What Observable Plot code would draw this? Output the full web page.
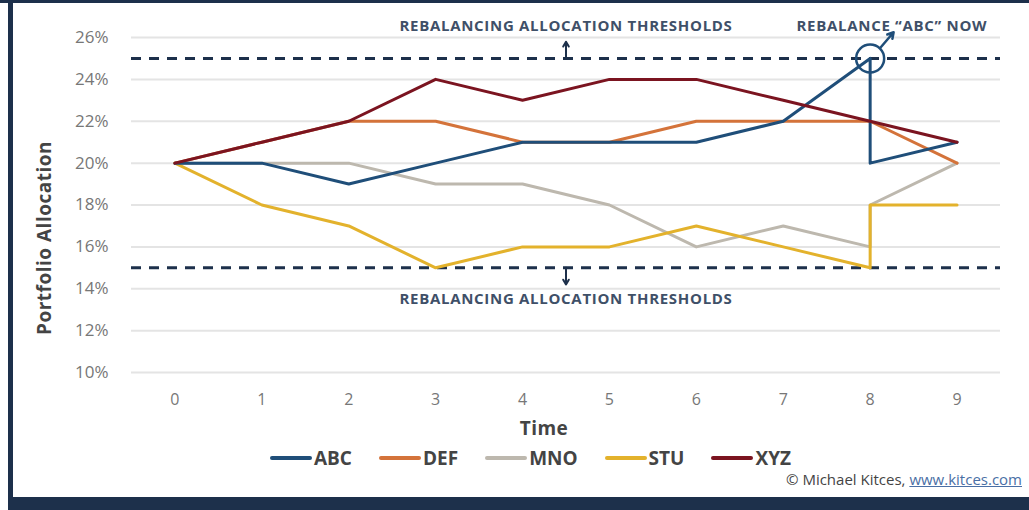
<!DOCTYPE html>
<html>
<head>
<meta charset="utf-8">
<script src="https://cdn.jsdelivr.net/npm/d3@7"></script>
<script src="https://cdn.jsdelivr.net/npm/@observablehq/plot@0.6"></script>
<style>
  html, body { margin: 0; padding: 0; background: #fff; }
  #wrap { position: relative; width: 1029px; height: 510px; overflow: hidden; background: #fff; font-family: "Open Sans", sans-serif; }
  #wrap svg { position: absolute; left: 0; top: 0; }
  #wrap svg g[aria-label="text"] text { letter-spacing: 0.7px; }
  .frame { position: absolute; background: #1d304b; }
  #ylab { position: absolute; left: 44px; top: 238px; transform: translate(-50%, -50%) rotate(-90deg); font-weight: 700; font-size: 19px; letter-spacing: 0.5px; color: #444; white-space: nowrap; }
  #xlab { position: absolute; left: 544px; top: 428px; transform: translate(-50%, -50%); font-weight: 700; font-size: 19px; letter-spacing: 0.5px; color: #444; }
  #legend { position: absolute; left: 270px; top: 445px; display: flex; align-items: center; font-weight: 700; font-size: 19px; color: #444; }
  #legend .item { display: flex; align-items: center; margin-right: 27px; }
  #legend .sw { width: 42px; height: 4px; border-radius: 2px; margin-right: 2px; }
  #caption { position: absolute; right: 7px; top: 469px; font-size: 15px; color: #444; }
  #caption a { color: #4a6fa5; text-decoration: underline; }
</style>
</head>
<body>
<div id="wrap">
  <div class="frame" style="left:0;top:0;width:1029px;height:3px"></div>
  <div class="frame" style="left:8px;top:0;width:5px;height:510px"></div>
  <div class="frame" style="left:8px;top:497px;width:1021px;height:13px"></div>
  <div id="ylab">Portfolio Allocation</div>
  <div id="xlab">Time</div>
  <div id="legend"></div>
  <div id="caption">© Michael Kitces, <a>www.kitces.com</a></div>
</div>
<script>
const seriesNames = ["ABC", "DEF", "MNO", "STU", "XYZ"];
const seriesColors = ["#1f4e79", "#d4733a", "#bdb8ae", "#e3b22c", "#7b1420"];
// time points (8 repeated where the portfolio is rebalanced)
const abcT = [0, 1, 2, 3, 4, 5, 6, 7, 8, 8, 9];
const abcV = [20, 20, 19, 20, 21, 21, 21, 22, 25, 20, 21];
const defT = [0, 1, 2, 3, 4, 5, 6, 7, 8, 9];
const defV = [20, 21, 22, 22, 21, 21, 22, 22, 22, 20];
const mnoT = [0, 1, 2, 3, 4, 5, 6, 7, 8, 8, 9];
const mnoV = [20, 20, 20, 19, 19, 18, 16, 17, 16, 18, 20];
const stuT = [0, 1, 2, 3, 4, 5, 6, 7, 8, 8, 9];
const stuV = [20, 18, 17, 15, 16, 16, 17, 16, 15, 18, 18];
const xyzT = [0, 1, 2, 3, 4, 5, 6, 7, 8, 9];
const xyzV = [20, 21, 22, 24, 23, 24, 24, 23, 22, 21];
const thresholds = [15, 25];
const xTicks = [0, 1, 2, 3, 4, 5, 6, 7, 8, 9];
const yTicks = [10, 12, 14, 16, 18, 20, 22, 24, 26];
const thresholdLabel = "REBALANCING ALLOCATION THRESHOLDS";
const rebalanceLabel = "REBALANCE “ABC” NOW";

const ts = [abcT, defT, mnoT, stuT, xyzT];
const vs = [abcV, defV, mnoV, stuV, xyzV];
const rows = [];
seriesNames.forEach((s, i) => ts[i].forEach((t, j) => rows.push({series: s, t, v: vs[i][j]})));
// draw order: MNO, STU, DEF, ABC, XYZ
const order = ["MNO", "STU", "DEF", "ABC", "XYZ"];

const navy = "#1d304b";
const textC = "#3f5068";

const chart = Plot.plot({
  width: 1029,
  height: 415,
  marginLeft: 131,
  marginRight: 29,
  marginTop: 37,
  marginBottom: 43,
  style: {fontFamily: "Open Sans, sans-serif", background: "transparent", overflow: "visible"},
  x: {domain: [-0.5, 9.5], ticks: xTicks, tickSize: 0, tickPadding: 22, tickFormat: d => String(d), label: null},
  y: {domain: [10, 26], ticks: yTicks, tickSize: 0, tickPadding: 23, tickFormat: d => d + "%", label: null},
  color: {domain: seriesNames, range: seriesColors},
  marks: [
    Plot.gridY(yTicks, {stroke: "#e4e4e4", strokeOpacity: 1, strokeWidth: 2}),
    Plot.axisX({ticks: xTicks, tickSize: 0, tickPadding: 21, fontSize: 16, fill: "#777", tickFormat: d => String(d), label: null}),
    Plot.axisY({ticks: yTicks, tickSize: 0, tickPadding: 23, fontSize: 17, fill: "#777", tickFormat: d => d + "%", label: null}),
    Plot.ruleY(thresholds, {stroke: navy, strokeWidth: 3, strokeDasharray: "10,8"}),
    ...order.map(s => Plot.line(rows.filter(r => r.series === s), {x: "t", y: "v", stroke: d => d.series, strokeWidth: 3, curve: "linear"})),
    Plot.dot([{t: 8, v: 25}], {x: "t", y: "v", r: 14, stroke: seriesColors[0], strokeWidth: 2.5, fill: "none"}),
    Plot.arrow([{x1: 8.12, y1: 25.52, x2: 8.27, y2: 26.25}], {x1: "x1", y1: "y1", x2: "x2", y2: "y2", stroke: seriesColors[0], strokeWidth: 2.5, headLength: 7}),
    Plot.arrow([{x1: 4.5, y1: 25, x2: 4.5, y2: 25.8}, {x1: 4.5, y1: 15, x2: 4.5, y2: 14.2}], {x1: "x1", y1: "y1", x2: "x2", y2: "y2", stroke: navy, strokeWidth: 2, headLength: 6}),
    Plot.text([thresholdLabel], {x: 4.5, y: 25, dy: -32, text: d => d, fontSize: 15, fontWeight: 700, fill: textC}),
    Plot.text([thresholdLabel], {x: 4.5, y: 15, dy: 31, text: d => d, fontSize: 15, fontWeight: 700, fill: textC}),
    Plot.text([rebalanceLabel], {x: 8.25, y: 25, dy: -32, text: d => d, fontSize: 15, fontWeight: 700, fill: textC})
  ]
});
document.getElementById("wrap").appendChild(chart);

const leg = document.getElementById("legend");
seriesNames.forEach((s, i) => {
  const it = document.createElement("div");
  it.className = "item";
  const sw = document.createElement("div");
  sw.className = "sw";
  sw.style.background = seriesColors[i];
  const lb = document.createElement("span");
  lb.textContent = s;
  it.appendChild(sw); it.appendChild(lb);
  leg.appendChild(it);
});
</script>
</body>
</html>
